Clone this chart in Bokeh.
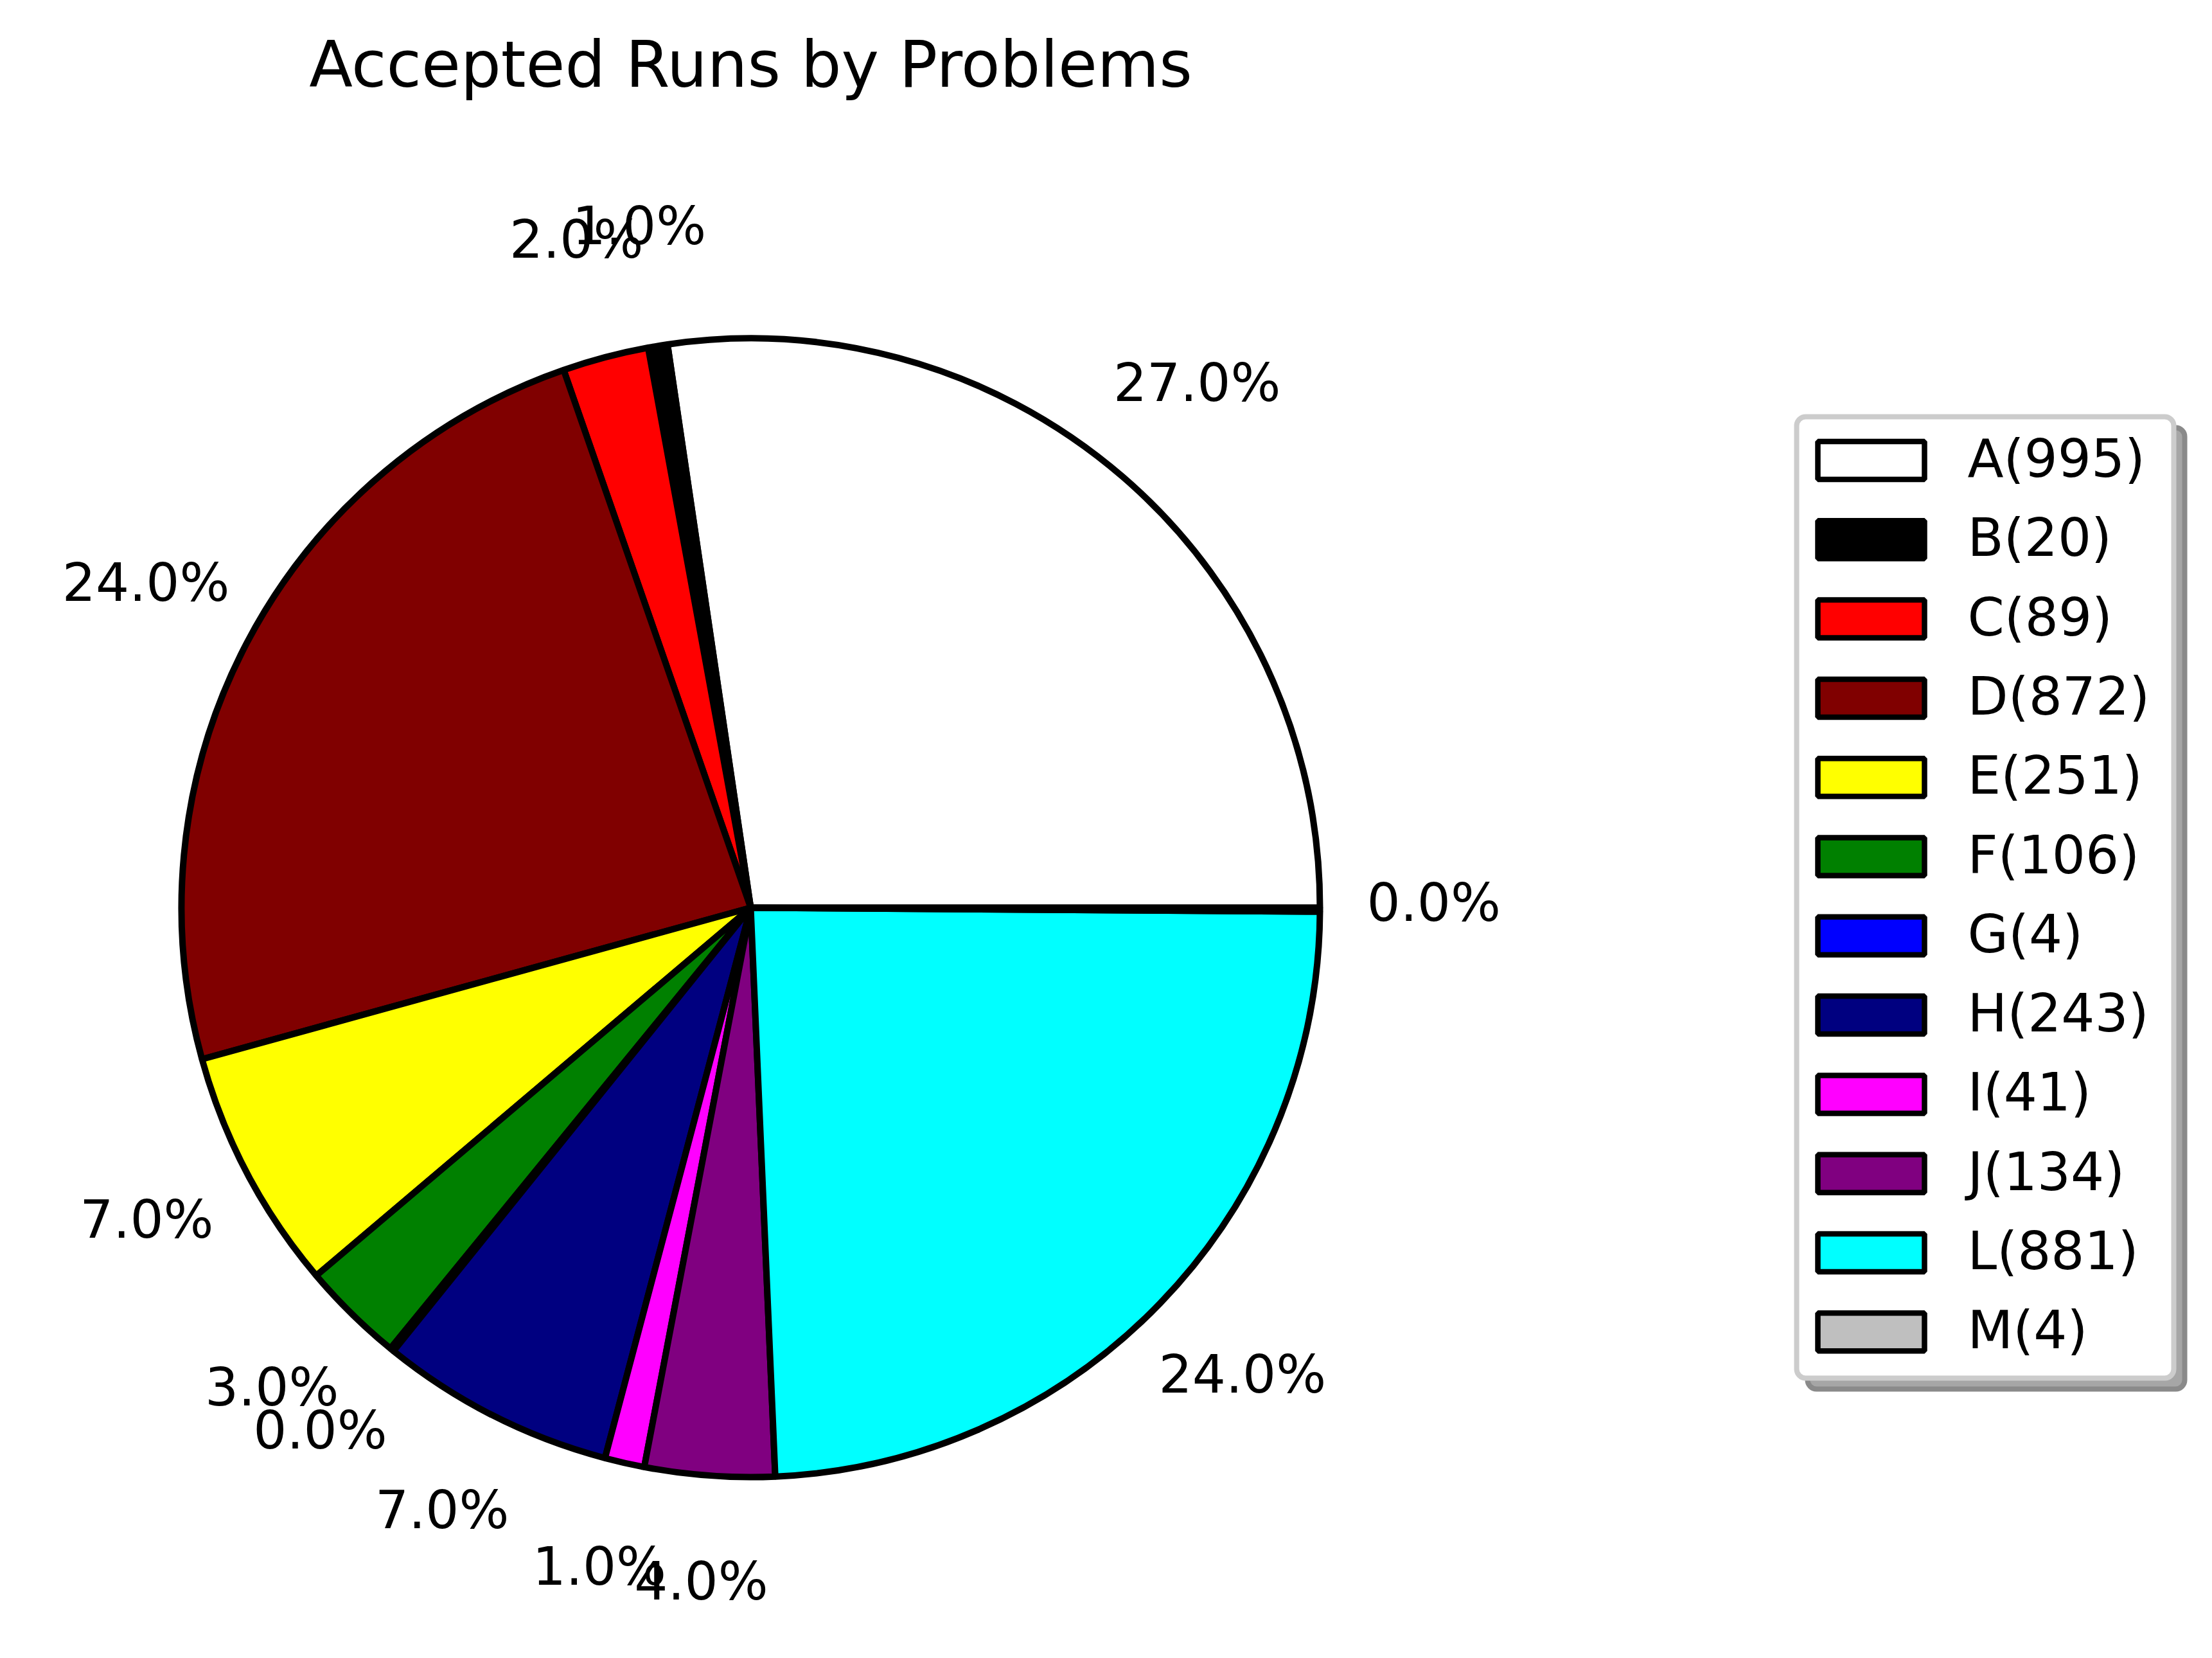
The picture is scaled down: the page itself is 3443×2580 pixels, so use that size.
import numpy as np
from bokeh.plotting import figure
from bokeh.models import ColumnDataSource, Range1d, BoxAnnotation
from bokeh.core.properties import value
from bokeh.embed import file_html
from bokeh.resources import INLINE

# ---- data ----
problems = ["A", "B", "C", "D", "E", "F", "G", "H", "I", "J", "L", "M"]
accepted = [995, 20, 89, 872, 251, 106, 4, 243, 41, 134, 881, 4]
colors = ["#ffffff", "#000000", "#ff0000", "#800000", "#ffff00", "#008000",
          "#0000ff", "#000080", "#ff00ff", "#800080", "#00ffff", "#bfbfbf"]
title_text = "Accepted Runs by Problems"

# ---- layout (pixel space of the page) ----
W, H = 3435, 2572
IMG_H = 2580
FONT = value("DejaVu Sans")
TXT_FIX = 34  # baseline correction for rendered text


def Y(y_img):
    return IMG_H - y_img


CX, CY = 1168, Y(1412)
R = 886
PCT_DIST = 1.2

vals = np.array(accepted, dtype=float)
frac = vals / vals.sum()
ends = 2 * np.pi * np.cumsum(frac)
starts = ends - 2 * np.pi * frac
mids = (starts + ends) / 2
pct_labels = [f"{float(round(f * 100)):.1f}%" for f in frac]

p = figure(width=W, height=H, output_backend="svg", toolbar_location=None,
           x_range=Range1d(0, W), y_range=Range1d(Y(H), Y(0)),
           x_axis_type=None, y_axis_type=None, min_border=0,
           background_fill_color="white", border_fill_color="white")
p.outline_line_color = None
p.grid.visible = False

# legend frame + shadow (drawn underneath)
LX0, LX1, LY0, LY1 = 2796, 3383, 648, 2144
SH = 17
shadow = BoxAnnotation(left=LX0 + SH, right=LX1 + SH, top=Y(LY0 + SH), bottom=Y(LY1 + SH),
                       fill_color="#a6a6a6", fill_alpha=1.0, line_color="#8a8a8a",
                       line_alpha=1.0, line_width=8, border_radius=14, level="underlay")
frame = BoxAnnotation(left=LX0, right=LX1, top=Y(LY0), bottom=Y(LY1),
                      fill_color="white", fill_alpha=1.0, line_color="#cccccc",
                      line_alpha=1.0, line_width=8, border_radius=14, level="underlay")
p.add_layout(shadow)
p.add_layout(frame)

# pie
src = ColumnDataSource(dict(problem=problems, value=accepted, color=colors,
                            start=starts, end=ends))
p.wedge(x=CX, y=CY, radius=R, start_angle="start", end_angle="end",
        fill_color="color", line_color="black", line_width=10, source=src)

# percentage labels
lab_src = ColumnDataSource(dict(
    x=CX + PCT_DIST * R * np.cos(mids),
    y=CY + PCT_DIST * R * np.sin(mids) - 22 + TXT_FIX,
    text=pct_labels))
p.text(x="x", y="y", text="text", source=lab_src, text_font=FONT,
       text_font_size="82px", text_align="center", text_baseline="alphabetic",
       text_color="black")

# title
p.text(x=[CX], y=[Y(136) + TXT_FIX + 2], text=[title_text], text_font=FONT,
       text_font_size="99px", text_align="center", text_baseline="alphabetic",
       text_color="black")

# legend entries
idx = np.arange(len(problems))
row_y = Y(716 + idx * 123.3)
leg_src = ColumnDataSource(dict(
    x=np.full(len(problems), 2912.0), y=row_y, color=colors,
    tx=np.full(len(problems), 3062.0), ty=row_y - 31 + TXT_FIX,
    label=[f"{pr}({v})" for pr, v in zip(problems, accepted)]))
p.rect(x="x", y="y", width=166, height=59, fill_color="color",
       line_color="black", line_width=8.5, source=leg_src)
p.text(x="tx", y="ty", text="label", source=leg_src, text_font=FONT,
       text_font_size="82px", text_align="left", text_baseline="alphabetic",
       text_color="black")

open("out.html", "w").write(file_html(p, INLINE))
